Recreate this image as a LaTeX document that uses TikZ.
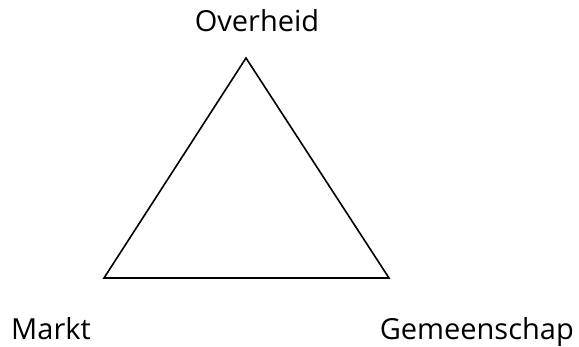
\documentclass[tikz,border=0pt]{standalone}
\usepackage{fontspec}
\setmainfont{Open Sans}
\begin{document}
\begin{tikzpicture}[x=1pt,y=1pt,
  lbl/.style={inner sep=0pt,font=\fontsize{29}{32}\selectfont},
  tri/.style={draw=black,line width=1.6pt,line join=miter}]
\useasboundingbox (0,0) rectangle (579,346);
\coordinate (top) at (246,288);
\coordinate (left) at (104,68);
\coordinate (right) at (389,68);
\draw[tri] (top) -- (left) -- (right) -- cycle;
\node[lbl,anchor=base] (overheid) at (257,314) {Overheid};
\node[lbl,anchor=base west] (markt) at (11,7) {Markt};
\node[lbl,anchor=base east] (gemeenschap) at (574,7) {Gemeenschap};
\end{tikzpicture}
\end{document}
